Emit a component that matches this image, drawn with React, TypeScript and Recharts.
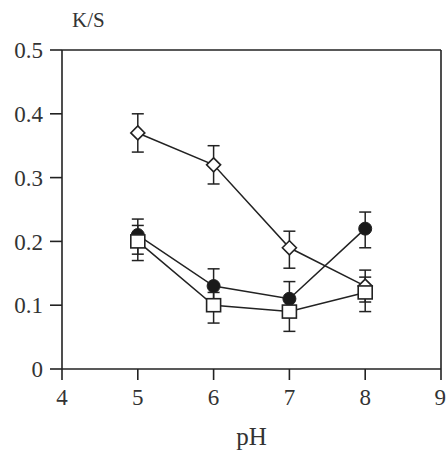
import React from 'react';
import { LineChart, Line, XAxis, YAxis, ErrorBar, ReferenceLine } from 'recharts';

const pH = [5, 6, 7, 8];
const diamondVals = [0.37, 0.32, 0.19, 0.13];
const diamondErrLow = [0.03, 0.03, 0.032, 0.025];
const diamondErrHigh = [0.03, 0.03, 0.026, 0.025];
const circleVals = [0.21, 0.13, 0.11, 0.22];
const circleErrLow = [0.03, 0.025, 0.025, 0.03];
const circleErrHigh = [0.025, 0.027, 0.027, 0.026];
const squareVals = [0.2, 0.1, 0.09, 0.12];
const squareErrLow = [0.03, 0.028, 0.031, 0.03];
const squareErrHigh = [0.025, 0.02, 0.02, 0.024];
const xTicks = [4, 5, 6, 7, 8, 9];
const yTicks = [0, 0.1, 0.2, 0.3, 0.4, 0.5];

const data = pH.map((x, i) => ({
  x,
  d: diamondVals[i],
  dErr: [diamondErrLow[i], diamondErrHigh[i]],
  c: circleVals[i],
  cErr: [circleErrLow[i], circleErrHigh[i]],
  s: squareVals[i],
  sErr: [squareErrLow[i], squareErrHigh[i]],
}));

const INK = '#222';
const FONT = '"Liberation Serif", "DejaVu Serif", serif';

const DiamondDot = (p: any) => {
  const { cx, cy } = p;
  if (cx == null || cy == null) return null;
  const r = 7;
  return (
    <path
      d={`M${cx},${cy - r}L${cx + r},${cy}L${cx},${cy + r}L${cx - r},${cy}Z`}
      fill="#fff"
      stroke={INK}
      strokeWidth={1.6}
    />
  );
};

const CircleDot = (p: any) => {
  const { cx, cy } = p;
  if (cx == null || cy == null) return null;
  return <circle cx={cx} cy={cy} r={6.5} fill="#1a1a1a" stroke={INK} strokeWidth={1} />;
};

const SquareDot = (p: any) => {
  const { cx, cy } = p;
  if (cx == null || cy == null) return null;
  const h = 7;
  return (
    <rect x={cx - h} y={cy - h + 0.5} width={2 * h} height={2 * h - 1} fill="#fff" stroke={INK} strokeWidth={1.6} />
  );
};

const tickStyle = { fontFamily: FONT, fontSize: 23, fill: '#333' };

export default function App() {
  return (
    <div style={{ position: 'absolute', left: 0, top: 0, background: '#fff' }}>
      <LineChart width={446} height={452} data={data} margin={{ top: 50, right: 5, bottom: 0, left: 0 }}>
        <XAxis
          type="number"
          dataKey="x"
          domain={[4, 9]}
          ticks={xTicks}
          allowDataOverflow
          stroke={INK}
          strokeWidth={1.6}
          tickSize={11}
          tickMargin={9}
          tick={tickStyle}
          height={83}
          label={{ value: 'pH', position: 'insideBottom', offset: 7, style: { fontFamily: FONT, fontSize: 25, fill: '#333' } }}
        />
        <YAxis
          type="number"
          domain={[0, 0.5]}
          ticks={yTicks}
          allowDataOverflow
          stroke={INK}
          strokeWidth={1.6}
          tickSize={12}
          tickMargin={7}
          tick={tickStyle}
          width={62}
          label={{
            content: (props: any) => {
              const vb = props.viewBox || { x: 0, y: 50, width: 62 };
              return (
                <text x={vb.x + vb.width + 10} y={vb.y - 28} fontFamily={FONT} fontSize={21} fill="#333" dominantBaseline="middle">
                  K/S
                </text>
              );
            },
          }}
        />
        <ReferenceLine y={0.5} stroke={INK} strokeWidth={1.6} />
        <ReferenceLine x={9} stroke={INK} strokeWidth={1.6} />
        <Line dataKey="d" stroke={INK} strokeWidth={1.5} dot={<DiamondDot />} isAnimationActive={false}>
          <ErrorBar dataKey="dErr" width={6} stroke={INK} strokeWidth={1.5} direction="y" />
        </Line>
        <Line dataKey="c" stroke={INK} strokeWidth={1.5} dot={<CircleDot />} isAnimationActive={false}>
          <ErrorBar dataKey="cErr" width={6} stroke={INK} strokeWidth={1.5} direction="y" />
        </Line>
        <Line dataKey="s" stroke={INK} strokeWidth={1.5} dot={<SquareDot />} isAnimationActive={false}>
          <ErrorBar dataKey="sErr" width={6} stroke={INK} strokeWidth={1.5} direction="y" />
        </Line>
      </LineChart>
    </div>
  );
}
